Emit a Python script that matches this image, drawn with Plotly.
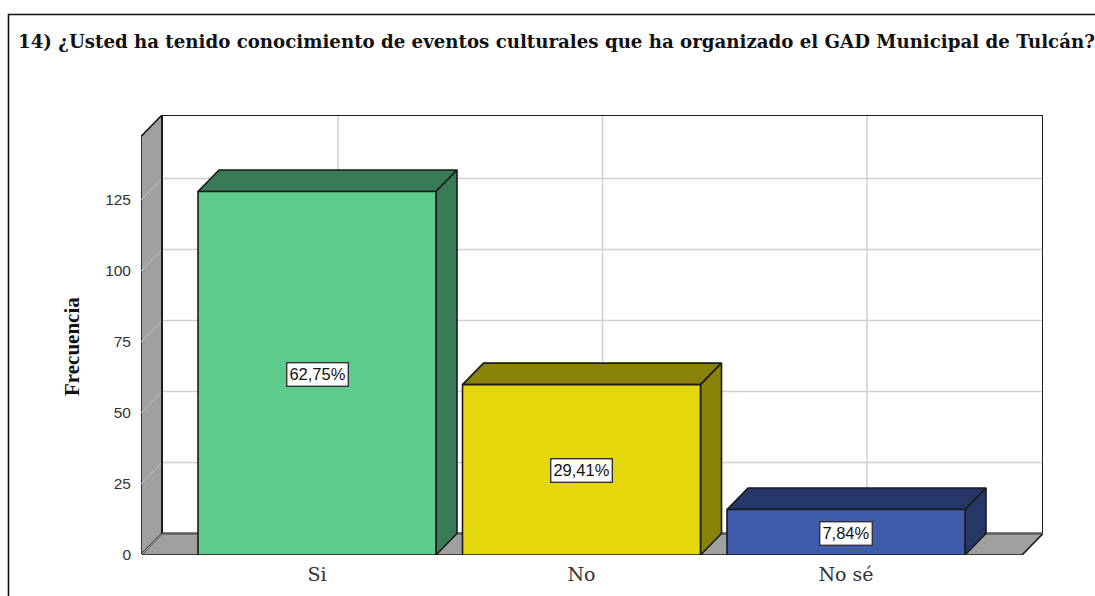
import plotly.graph_objects as go

title_text = "14) ¿Usted ha tenido conocimiento de eventos culturales que ha organizado el GAD Municipal de Tulcán?"
y_title = "Frecuencia"
categories = ["Si", "No", "No sé"]
frecuencia = [128, 60, 16]
porcentajes = ["62,75%", "29,41%", "7,84%"]
y_ticks = [0, 25, 50, 75, 100, 125]
front_colors = ["#5ecb8c", "#e4d80c", "#3f5ba9"]
side_colors = ["#387b55", "#8b8209", "#253767"]

W, H = 1095, 596
L, R, T, B = 141, 52, 115, 41
PX_X = 264.5          # pixels per category
PX_Y = 2.84           # pixels per frequency unit
X_MIN = (L - 317) / PX_X
X_MAX = (W - R - 317) / PX_X
Y_MAX = (H - B - T) / PX_Y
DX = 21 / PX_X        # depth of the 3D projection, data units
DY = 21.5 / PX_Y
HALF = 119 / PX_X
EDGE = "#1a1a1a"
GRID = "#cfcfcf"
WALL = "#a0a0a0"

fig = go.Figure()


def poly(xs, ys, fill, lw=1.6, color=EDGE):
    fig.add_trace(go.Scatter(
        x=xs + xs[:1], y=ys + ys[:1], mode="lines", fill="toself", fillcolor=fill,
        line=dict(color=color, width=lw), hoverinfo="skip", showlegend=False, cliponaxis=False))


def seg(xs, ys, color=GRID, lw=1.5):
    fig.add_trace(go.Scatter(
        x=xs, y=ys, mode="lines", line=dict(color=color, width=lw),
        hoverinfo="skip", showlegend=False, cliponaxis=False))


# walls
poly([X_MIN + DX, X_MAX, X_MAX, X_MIN + DX], [DY, DY, Y_MAX, Y_MAX], "white")
poly([X_MIN, X_MIN + DX, X_MIN + DX, X_MIN], [0, DY, Y_MAX, Y_MAX - DY], WALL)
poly([X_MIN, X_MAX - DX, X_MAX, X_MIN + DX], [0, 0, DY, DY], WALL)

# grid
for t in y_ticks:
    seg([X_MIN, X_MIN + DX], [t, t + DY], color="#c4c4c4", lw=1)
    if t:
        seg([X_MIN + DX, X_MAX], [t + DY, t + DY])
for i in range(len(categories)):
    seg([i + DX, i + DX], [DY, Y_MAX])

# redraw wall edges above the grid
seg([X_MIN + DX, X_MIN + DX], [DY, Y_MAX], color=EDGE, lw=1.8)
seg([X_MIN + DX, X_MAX, X_MAX], [Y_MAX, Y_MAX, DY], color=EDGE, lw=1.8)
seg([X_MIN + DX, X_MAX], [DY, DY], color="#555555", lw=1.4)

# bars
for i, v in enumerate(frecuencia):
    x0, x1 = i - HALF, i + HALF
    poly([x0, x1, x1 + DX, x0 + DX], [v, v, v + DY, v + DY], side_colors[i])
    poly([x1, x1 + DX, x1 + DX, x1], [0, DY, v + DY, v], side_colors[i])
    poly([x0, x1, x1, x0], [0, 0, v, v], front_colors[i])
    fig.add_annotation(
        x=i, y=v / 2, yshift=-1, text=porcentajes[i], showarrow=False,
        font=dict(family="Liberation Sans", size=16.5, color="#111111"),
        bgcolor="white", bordercolor="#333333", borderwidth=1.4, borderpad=2)

fig.add_annotation(
    xref="paper", yref="paper", x=(16 - L) / (W - L - R), y=1 + (T - 42) / (H - T - B),
    xanchor="left", yanchor="middle", text="<b>" + title_text + "</b>", showarrow=False,
    font=dict(family="DejaVu Serif", size=18.2, color="#111111"))
fig.add_annotation(
    xref="paper", yref="paper", x=(72 - L) / (W - L - R), y=(H - B - 347) / (H - T - B),
    xanchor="center", yanchor="middle", text="<b>" + y_title + "</b>", textangle=-90, showarrow=False,
    font=dict(family="Liberation Serif", size=21, color="#111111"))

# outer frame, open to the right and bottom of the page
fx = (8.5 - L) / (W - L - R)
fy0 = (H - B - H - 5) / (H - T - B)
fy1 = (H - B - 14.5) / (H - T - B)
fig.add_shape(type="path", xref="paper", yref="paper",
              path=f"M {fx} {fy0} L {fx} {fy1} L 1.1 {fy1}",
              line=dict(color="#111111", width=1.6))

fig.update_layout(
    width=W, height=H, margin=dict(l=L, r=R, t=T, b=B, autoexpand=False),
    paper_bgcolor="white", plot_bgcolor="white", showlegend=False,
    xaxis=dict(range=[X_MIN, X_MAX], tickmode="array", tickvals=list(range(len(categories))),
               ticktext=categories, showgrid=False, zeroline=False, showline=False,
               ticks="", ticklabelstandoff=6,
               tickfont=dict(family="DejaVu Serif", size=19, color="#333333")),
    yaxis=dict(range=[0, Y_MAX], tickmode="array", tickvals=y_ticks, showgrid=False,
               zeroline=False, showline=False, ticks="", ticklabelstandoff=9,
               tickfont=dict(family="Liberation Sans", size=15.5, color="#333333")),
)

fig.write_html("out.html", config=dict(displayModeBar=False),
               post_script="document.body.style.margin='0';document.body.style.overflow='hidden';")
